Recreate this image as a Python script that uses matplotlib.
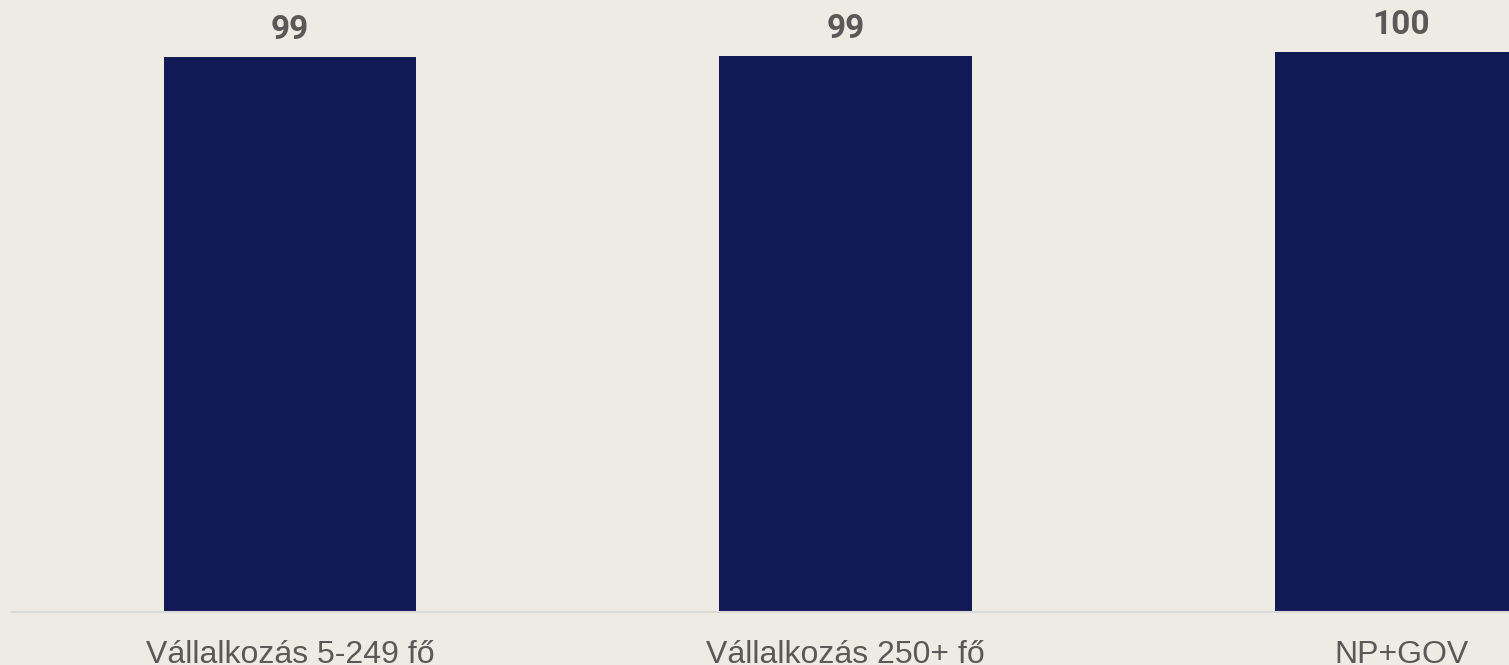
import matplotlib.pyplot as plt

categories = ['Vállalkozás 5-249 fő', 'Vállalkozás 250+ fő', 'NP+GOV']
values = [99.1, 99.3, 100.0]
value_labels = ['99', '99', '100']

bg = '#EEEBE4'
bar_color = '#121A55'
text_color = '#595959'

fig = plt.figure(figsize=(15.09, 6.65), dpi=100)
fig.patch.set_facecolor(bg)
ax = fig.add_axes([12 / 1509, 53 / 665, 1497 / 1509, 560 / 665])
ax.set_facecolor(bg)

x = list(range(len(categories)))
ax.bar(x, values, width=0.4536, color=bar_color)

# etiquetas de valor encima de cada barra
for xi, v, lab in zip(x, values, value_labels):
    ax.annotate(lab, (xi, v), xytext=(0, 13), textcoords='offset points',
                ha='center', va='baseline', fontsize=24, fontweight='bold',
                family='Roboto', color=text_color)

ax.set_xlim(-0.5, 2.194)
ax.set_ylim(0, 100)
ax.set_xticks(x)
ax.set_xticklabels(categories, fontsize=23, family='Liberation Sans', color=text_color)
ax.tick_params(axis='x', length=0, pad=20)
ax.set_yticks([])

for side in ['top', 'right', 'left']:
    ax.spines[side].set_visible(False)
ax.spines['bottom'].set_color('#D9D9D9')
ax.spines['bottom'].set_linewidth(1.5)

fig.savefig('out.png', dpi=100, facecolor=bg)
